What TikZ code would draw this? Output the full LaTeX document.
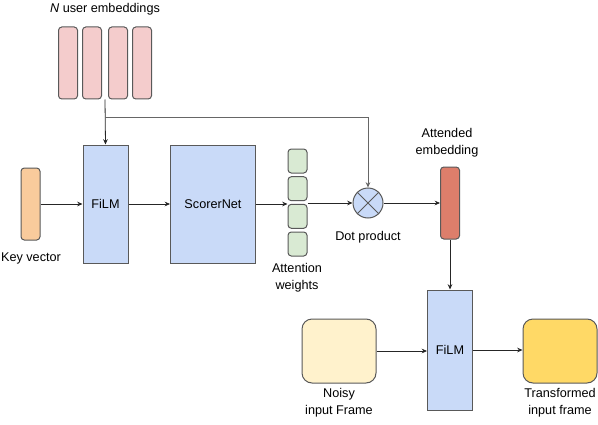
\documentclass[tikz,border=0pt]{standalone}
\usepackage{fontspec}
\setmainfont{Liberation Sans}
\usetikzlibrary{arrows.meta}

\definecolor{userpink}{RGB}{244,204,204}
\definecolor{filmblue}{RGB}{201,218,248}
\definecolor{attgreen}{RGB}{217,234,211}
\definecolor{keyorange}{RGB}{249,203,156}
\definecolor{attsalmon}{RGB}{221,126,107}
\definecolor{noisycream}{RGB}{255,242,204}
\definecolor{outyellow}{RGB}{255,217,102}
\definecolor{edgegray}{RGB}{89,89,89}

\tikzset{every picture/.style={line width=0.75pt}}
\tikzset{
  lbl/.style={inner sep=0.75pt, align=center, font=\fontsize{9.5}{13}\selectfont},
  vecbox/.style={draw=edgegray, rounded corners=2.5pt, inner sep=0pt, minimum width=14.25pt, minimum height=54pt},
  wbox/.style={draw=edgegray, fill=attgreen, rounded corners=2.5pt, inner sep=0pt, minimum width=14.25pt, minimum height=18pt},
  filmbox/.style={draw=edgegray, fill=filmblue, inner sep=0pt, minimum width=33.75pt, minimum height=88.5pt, font=\fontsize{9.5}{13}\selectfont},
  framebox/.style={draw=edgegray, rounded corners=7.5pt, inner sep=0pt, minimum width=55.5pt, minimum height=48pt},
  conn/.style={draw=black!85, line width=0.6pt, -{Stealth[length=4pt,width=3.5pt]}}
}

\begin{document}
\begin{tikzpicture}[x=0.75pt,y=0.75pt,yscale=-1,xscale=1]
\useasboundingbox (0,0) rectangle (598,424);

%User embeddings
\foreach \i/\x in {1/68,2/92,3/118,4/142}
  \node [vecbox, fill=userpink] (u\i) at (\x,63) {};
%Key vector
\node [vecbox, fill=keyorange] (key) at (30.5,204) {};
%FiLM blocks
\node [filmbox] (film1) at (105.5,204) {FiLM};
\node [filmbox, minimum height=90pt] (film2) at (450,350) {FiLM};
%ScorerNet
\node [filmbox, minimum width=63.75pt] (scorer) at (213,204) {ScorerNet};
%Attention weights
\foreach \i/\y in {1/161,2/188.7,3/216.3,4/244}
  \node [wbox] (w\i) at (297.5,\y) {};
%Dot product
\node [circle, draw=edgegray, fill=filmblue, minimum size=22.5pt, inner sep=0pt] (dot) at (368,203) {};
\draw [edgegray] (dot.north west) -- (dot.south east) (dot.north east) -- (dot.south west);
%Attended embedding
\node [vecbox, fill=attsalmon] (att) at (450,203) {};
%Frames
\node [framebox, fill=noisycream] (noisy) at (339,351) {};
\node [framebox, fill=outyellow] (out) at (560,351) {};

\coordinate (ustem) at (105,99.5);
\coordinate (split) at (105,117);

%Straight Lines
\draw [conn] (ustem) -- (film1.north);
\draw [conn, draw=black!60] (split) -| (dot.north);
\draw [conn] (key.east) -- (film1.west);
\draw [conn] (film1.east) -- (scorer.west);
\draw [conn] (scorer.east) -- (scorer.east -| w2.west);
\draw [conn] (dot.west -| w2.east) -- (dot.west);
\draw [conn] (dot.east) -- (att.west);
\draw [conn] (att.south) -- (film2.north);
\draw [conn] (noisy.east) -- (noisy.east -| film2.west);
\draw [conn] (film2.east) -- (film2.east -| out.west);

% Text Node
\node [lbl] (ulbl) at (105,9) {\textit{N} user embeddings};
% Text Node
\node [lbl] (keylbl) at (31,258) {Key vector};
% Text Node
\node [lbl] (wlbl) at (297,277.5) {Attention\\weights};
% Text Node
\node [lbl] (dotlbl) at (368,237) {Dot product};
% Text Node
\node [lbl] (attlbl) at (447,142.5) {Attended\\embedding};
% Text Node
\node [lbl] (noisylbl) at (339,402.5) {Noisy\\input Frame};
% Text Node
\node [lbl] (outlbl) at (560,402.5) {Transformed\\input frame};

\end{tikzpicture}
\end{document}
